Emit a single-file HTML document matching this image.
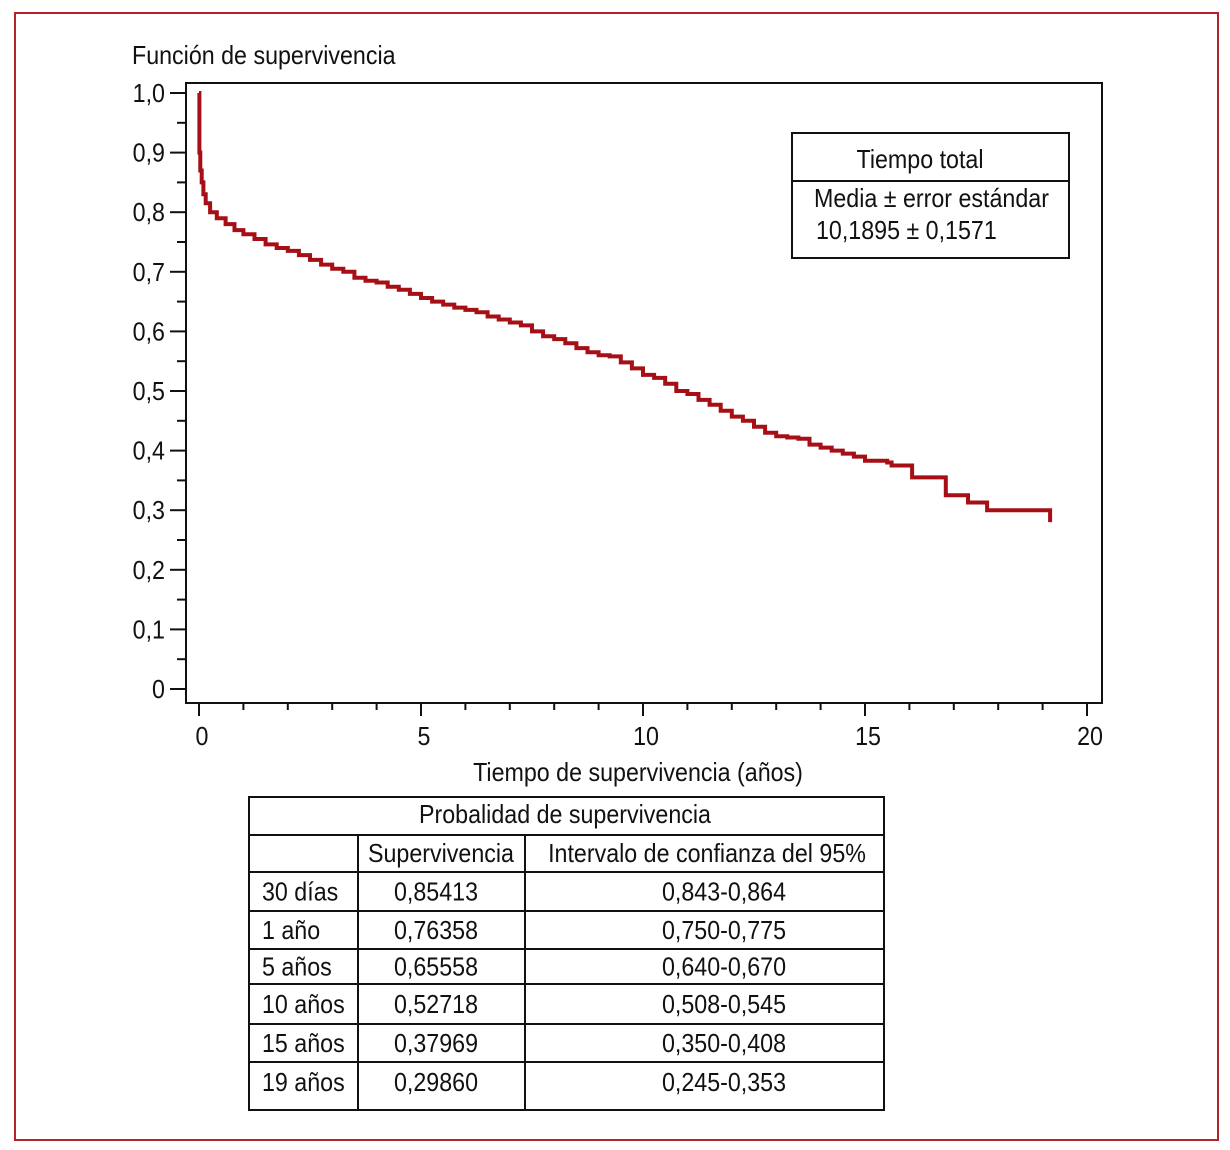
<!DOCTYPE html>
<html><head><meta charset="utf-8"><style>
body{margin:0;background:#fff;}
#wrap{position:relative;width:1230px;height:1150px;overflow:hidden;font-family:"Liberation Sans",sans-serif;color:#111;}
</style></head><body>
<div id="wrap">
<div style="position:absolute;left:14px;top:12px;width:1201px;height:1125px;border:2px solid #b5222b;"></div>
<svg id="chart" width="1230" height="1150" style="position:absolute;left:0;top:0"></svg>
</div>
<script>
const years=[0,0.01,0.03,0.06,0.1,0.15,0.25,0.4,0.6,0.8,1,1.25,1.5,1.75,2,2.25,2.5,2.75,3,3.25,3.5,3.75,4,4.25,4.5,4.75,5,5.25,5.5,5.75,6,6.25,6.5,6.75,7,7.25,7.5,7.75,8,8.25,8.5,8.75,9,9.25,9.5,9.75,10,10.25,10.5,10.75,11,11.25,11.5,11.75,12,12.25,12.5,12.75,13,13.25,13.5,13.75,14,14.25,14.5,14.75,15,15.5,15.6,16.06,16.82,17.32,17.75,19.17];
const surv=[1.0,0.9,0.87,0.85,0.83,0.815,0.80,0.79,0.78,0.77,0.763,0.755,0.746,0.74,0.735,0.728,0.72,0.712,0.705,0.70,0.69,0.685,0.682,0.675,0.67,0.663,0.656,0.65,0.645,0.64,0.636,0.632,0.625,0.62,0.615,0.61,0.60,0.592,0.587,0.58,0.572,0.565,0.56,0.558,0.548,0.538,0.527,0.522,0.512,0.50,0.495,0.485,0.477,0.467,0.457,0.45,0.44,0.43,0.424,0.422,0.42,0.41,0.405,0.40,0.395,0.39,0.383,0.38,0.375,0.355,0.325,0.313,0.30,0.28];
const xTicks=[0,5,10,15,20];
const yTicks=["0","0,1","0,2","0,3","0,4","0,5","0,6","0,7","0,8","0,9","1,0"];
const rowLabels=["30 días","1 año","5 años","10 años","15 años","19 años"];
const survVals=["0,85413","0,76358","0,65558","0,52718","0,37969","0,29860"];
const ciVals=["0,843-0,864","0,750-0,775","0,640-0,670","0,508-0,545","0,350-0,408","0,245-0,353"];
const NS="http://www.w3.org/2000/svg";
const svg=document.getElementById('chart');
const X=v=>199+v*44.4, Y=v=>689-v*596;
function mk(tag,attrs,parent){const e=document.createElementNS(NS,tag);for(const k in attrs)e.setAttribute(k,attrs[k]);(parent||svg).appendChild(e);return e;}
function txt(x,y,s,anchor,size){const e=mk('text',{x:0,y:0,transform:'translate('+x+','+y+') scale(0.93,1.02)','text-anchor':anchor||'start','font-size':size||25,'font-family':'"Liberation Sans",sans-serif',fill:'#111'});e.textContent=s;return e;}
let e=mk('rect',{x:186,y:83,width:916,height:620,fill:'none',stroke:'#111','stroke-width':2});

for(let i=0;i<=20;i++){const y=Y(i*0.05);e=mk('line',{x1:i%2?177:170,x2:186,y1:y,y2:y,stroke:'#111','stroke-width':2});
}
yTicks.forEach((s,i)=>{e=txt(165,Y(i*0.1)+9,s,'end');
});
for(let i=0;i<=20;i++){const x=X(i);e=mk('line',{x1:x,x2:x,y1:703,y2:i%5?710:716,stroke:'#111','stroke-width':2});
}
xTicks.forEach(v=>{e=txt(X(v)+3,745,String(v),'middle');
});
e=txt(132,64,'Función de supervivencia');
e=txt(638,781,'Tiempo de supervivencia (años)','middle');
let d='M'+X(years[0])+','+Y(surv[0]);
for(let i=1;i<years.length-1;i++){d+=' H'+X(years[i]).toFixed(1)+' V'+Y(surv[i]).toFixed(1);}
d+=' H'+X(years[years.length-1]).toFixed(1)+' V'+Y(surv[surv.length-1]).toFixed(1);
e=mk('path',{d:d,fill:'none',stroke:'#a50f15','stroke-width':4});

e=mk('rect',{x:792,y:133,width:277,height:125,fill:'#fff',stroke:'#111','stroke-width':2});

mk('line',{x1:792,x2:1069,y1:181,y2:181,stroke:'#111','stroke-width':2});
e=txt(920,168,'Tiempo total','middle');
e=txt(814,207,'Media ± error estándar');
e=txt(816,239,'10,1895 ± 0,1571');
const rows=[797,835,872,911,949,984,1024,1062,1110];
e=mk('rect',{x:249,y:797,width:635,height:313,fill:'none',stroke:'#111','stroke-width':2});

rows.slice(1,-1).forEach(y=>mk('line',{x1:249,x2:884,y1:y,y2:y,stroke:'#111','stroke-width':2}));
[358,525].forEach(x=>mk('line',{x1:x,x2:x,y1:835,y2:1110,stroke:'#111','stroke-width':2}));
e=txt(565,823,'Probalidad de supervivencia','middle');
e=txt(441,862,'Supervivencia','middle');
e=txt(707,862,'Intervalo de confianza del 95%','middle');
rowLabels.forEach((s,i)=>{const y=(i===5?1091:(rows[i+2]+rows[i+3])/2+9);
e=txt(262,y,s);
e=txt(436,y,survVals[i],'middle');
e=txt(724,y,ciVals[i],'middle');});
</script>
</body></html>
